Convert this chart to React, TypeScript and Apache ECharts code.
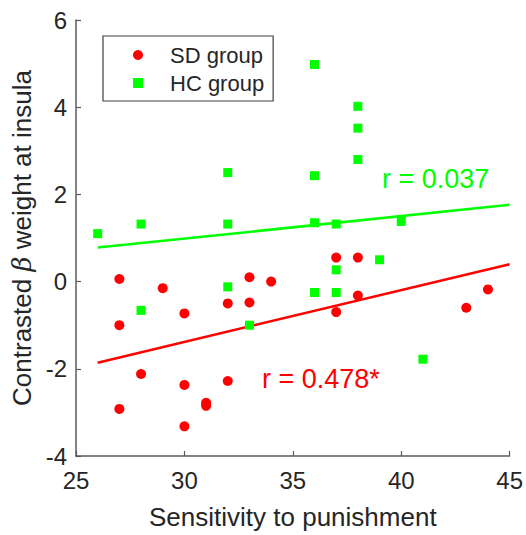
import React, { useEffect, useRef } from "react";
import * as echarts from "echarts";

const xTicks = [25, 30, 35, 40, 45];
const yTicks = [-4, -2, 0, 2, 4, 6];

const sdX = [27, 27, 29, 30, 32, 33, 33, 34, 37, 38, 37, 38, 43, 44, 28, 30, 32, 27, 31, 31, 30];
const sdY = [0.06, -1.0, -0.15, -0.73, -0.5, 0.1, -0.48, 0.0, 0.55, 0.55, -0.7, -0.32, -0.6, -0.18, -2.12, -2.37, -2.28, -2.92, -2.78, -2.85, -3.32];

const hcX = [26, 28, 28, 32, 32, 32, 33, 36, 36, 36, 36, 37, 37, 37, 38, 38, 38, 39, 40, 41];
const hcY = [1.1, 1.32, -0.66, 2.5, 1.32, -0.12, -1.0, 4.98, 2.43, 1.35, -0.25, 1.32, 0.27, -0.25, 4.02, 3.52, 2.8, 0.5, 1.38, -1.78];

const fitX = [26, 45];
const sdFit = [-1.86, 0.4];
const hcFit = [0.78, 1.76];

const sdR = "r = 0.478*";
const hcR = "r = 0.037";

const FONT = "Liberation Sans, Arial, Helvetica, sans-serif";
const TXT = "#262626";
const AX = "#5a5a5a";

export default function App() {
  const ref = useRef<HTMLDivElement>(null);
  useEffect(() => {
    if (!ref.current) return;
    const chart = echarts.init(ref.current, null, { renderer: "svg" });
    const zip = (xs: number[], ys: number[]) => xs.map((x, i) => [x, ys[i]]);
    chart.setOption({
      animation: false,
      textStyle: { fontFamily: FONT },
      grid: { left: 76, right: 14, top: 20, bottom: 71, containLabel: false },
      xAxis: {
        type: "value",
        min: xTicks[0],
        max: xTicks[xTicks.length - 1],
        interval: 5,
        name: "Sensitivity to punishment",
        nameLocation: "middle",
        nameGap: 48,
        nameTextStyle: { fontSize: 26, color: TXT, fontFamily: FONT },
        axisLine: { onZero: false, lineStyle: { color: AX, width: 1.5 } },
        axisTick: { inside: true, length: 5, lineStyle: { color: AX, width: 1.2 } },
        axisLabel: { fontSize: 24, color: TXT, margin: 12, fontFamily: FONT, showMinLabel: true, showMaxLabel: true },
        splitLine: { show: false },
      },
      yAxis: {
        type: "value",
        min: yTicks[0],
        max: yTicks[yTicks.length - 1],
        interval: 2,
        name: "Contrasted {b|β} weight at insula",
        nameLocation: "middle",
        nameGap: 40,
        nameTextStyle: {
          fontSize: 26,
          color: TXT,
          fontFamily: FONT,
          rich: {
            b: { fontSize: 26, color: TXT, fontStyle: "italic", fontFamily: "DejaVu Serif, serif" },
          },
        },
        axisLine: { onZero: false, lineStyle: { color: AX, width: 1.5 } },
        axisTick: { inside: true, length: 5, lineStyle: { color: AX, width: 1.2 } },
        axisLabel: { fontSize: 24, color: TXT, margin: 9, fontFamily: FONT, showMinLabel: true, showMaxLabel: true },
        splitLine: { show: false },
      },
      legend: {
        orient: "vertical",
        left: 103,
        top: 36,
        data: [
          { name: "SD group", icon: "circle" },
          { name: "HC group", icon: "rect" },
        ],
        itemWidth: 10,
        itemHeight: 10,
        itemGap: 6,
        padding: [8, 9, 7, 30],
        borderColor: "#404040",
        borderWidth: 1.2,
        backgroundColor: "#ffffff",
        textStyle: { fontSize: 22, color: TXT, fontFamily: FONT, padding: [0, 0, 0, 22] },
      },
      graphic: [
        {
          type: "text",
          left: 382,
          top: 165,
          style: { text: hcR, fontSize: 27, fill: "#00ff00", fontFamily: FONT },
        },
        {
          type: "text",
          left: 262,
          top: 365,
          style: { text: sdR, fontSize: 27, fill: "#ff0000", fontFamily: FONT },
        },
      ],
      series: [
        {
          name: "SD fit",
          type: "line",
          data: zip(fitX, sdFit),
          symbol: "none",
          lineStyle: { color: "#ff0000", width: 2.5 },
          z: 1,
        },
        {
          name: "HC fit",
          type: "line",
          data: zip(fitX, hcFit),
          symbol: "none",
          lineStyle: { color: "#00ff00", width: 2.5 },
          z: 1,
        },
        {
          name: "SD group",
          type: "scatter",
          symbol: "circle",
          symbolSize: 10,
          data: zip(sdX, sdY),
          itemStyle: { color: "#ff0000", opacity: 1 },
          z: 3,
        },
        {
          name: "HC group",
          type: "scatter",
          symbol: "rect",
          symbolSize: 9,
          data: zip(hcX, hcY),
          itemStyle: { color: "#00ff00", opacity: 1 },
          z: 2,
        },
      ],
    });
    return () => chart.dispose();
  }, []);
  return <div ref={ref} style={{ width: 526, height: 535, position: "absolute", left: 0, top: 0 }} />;
}
